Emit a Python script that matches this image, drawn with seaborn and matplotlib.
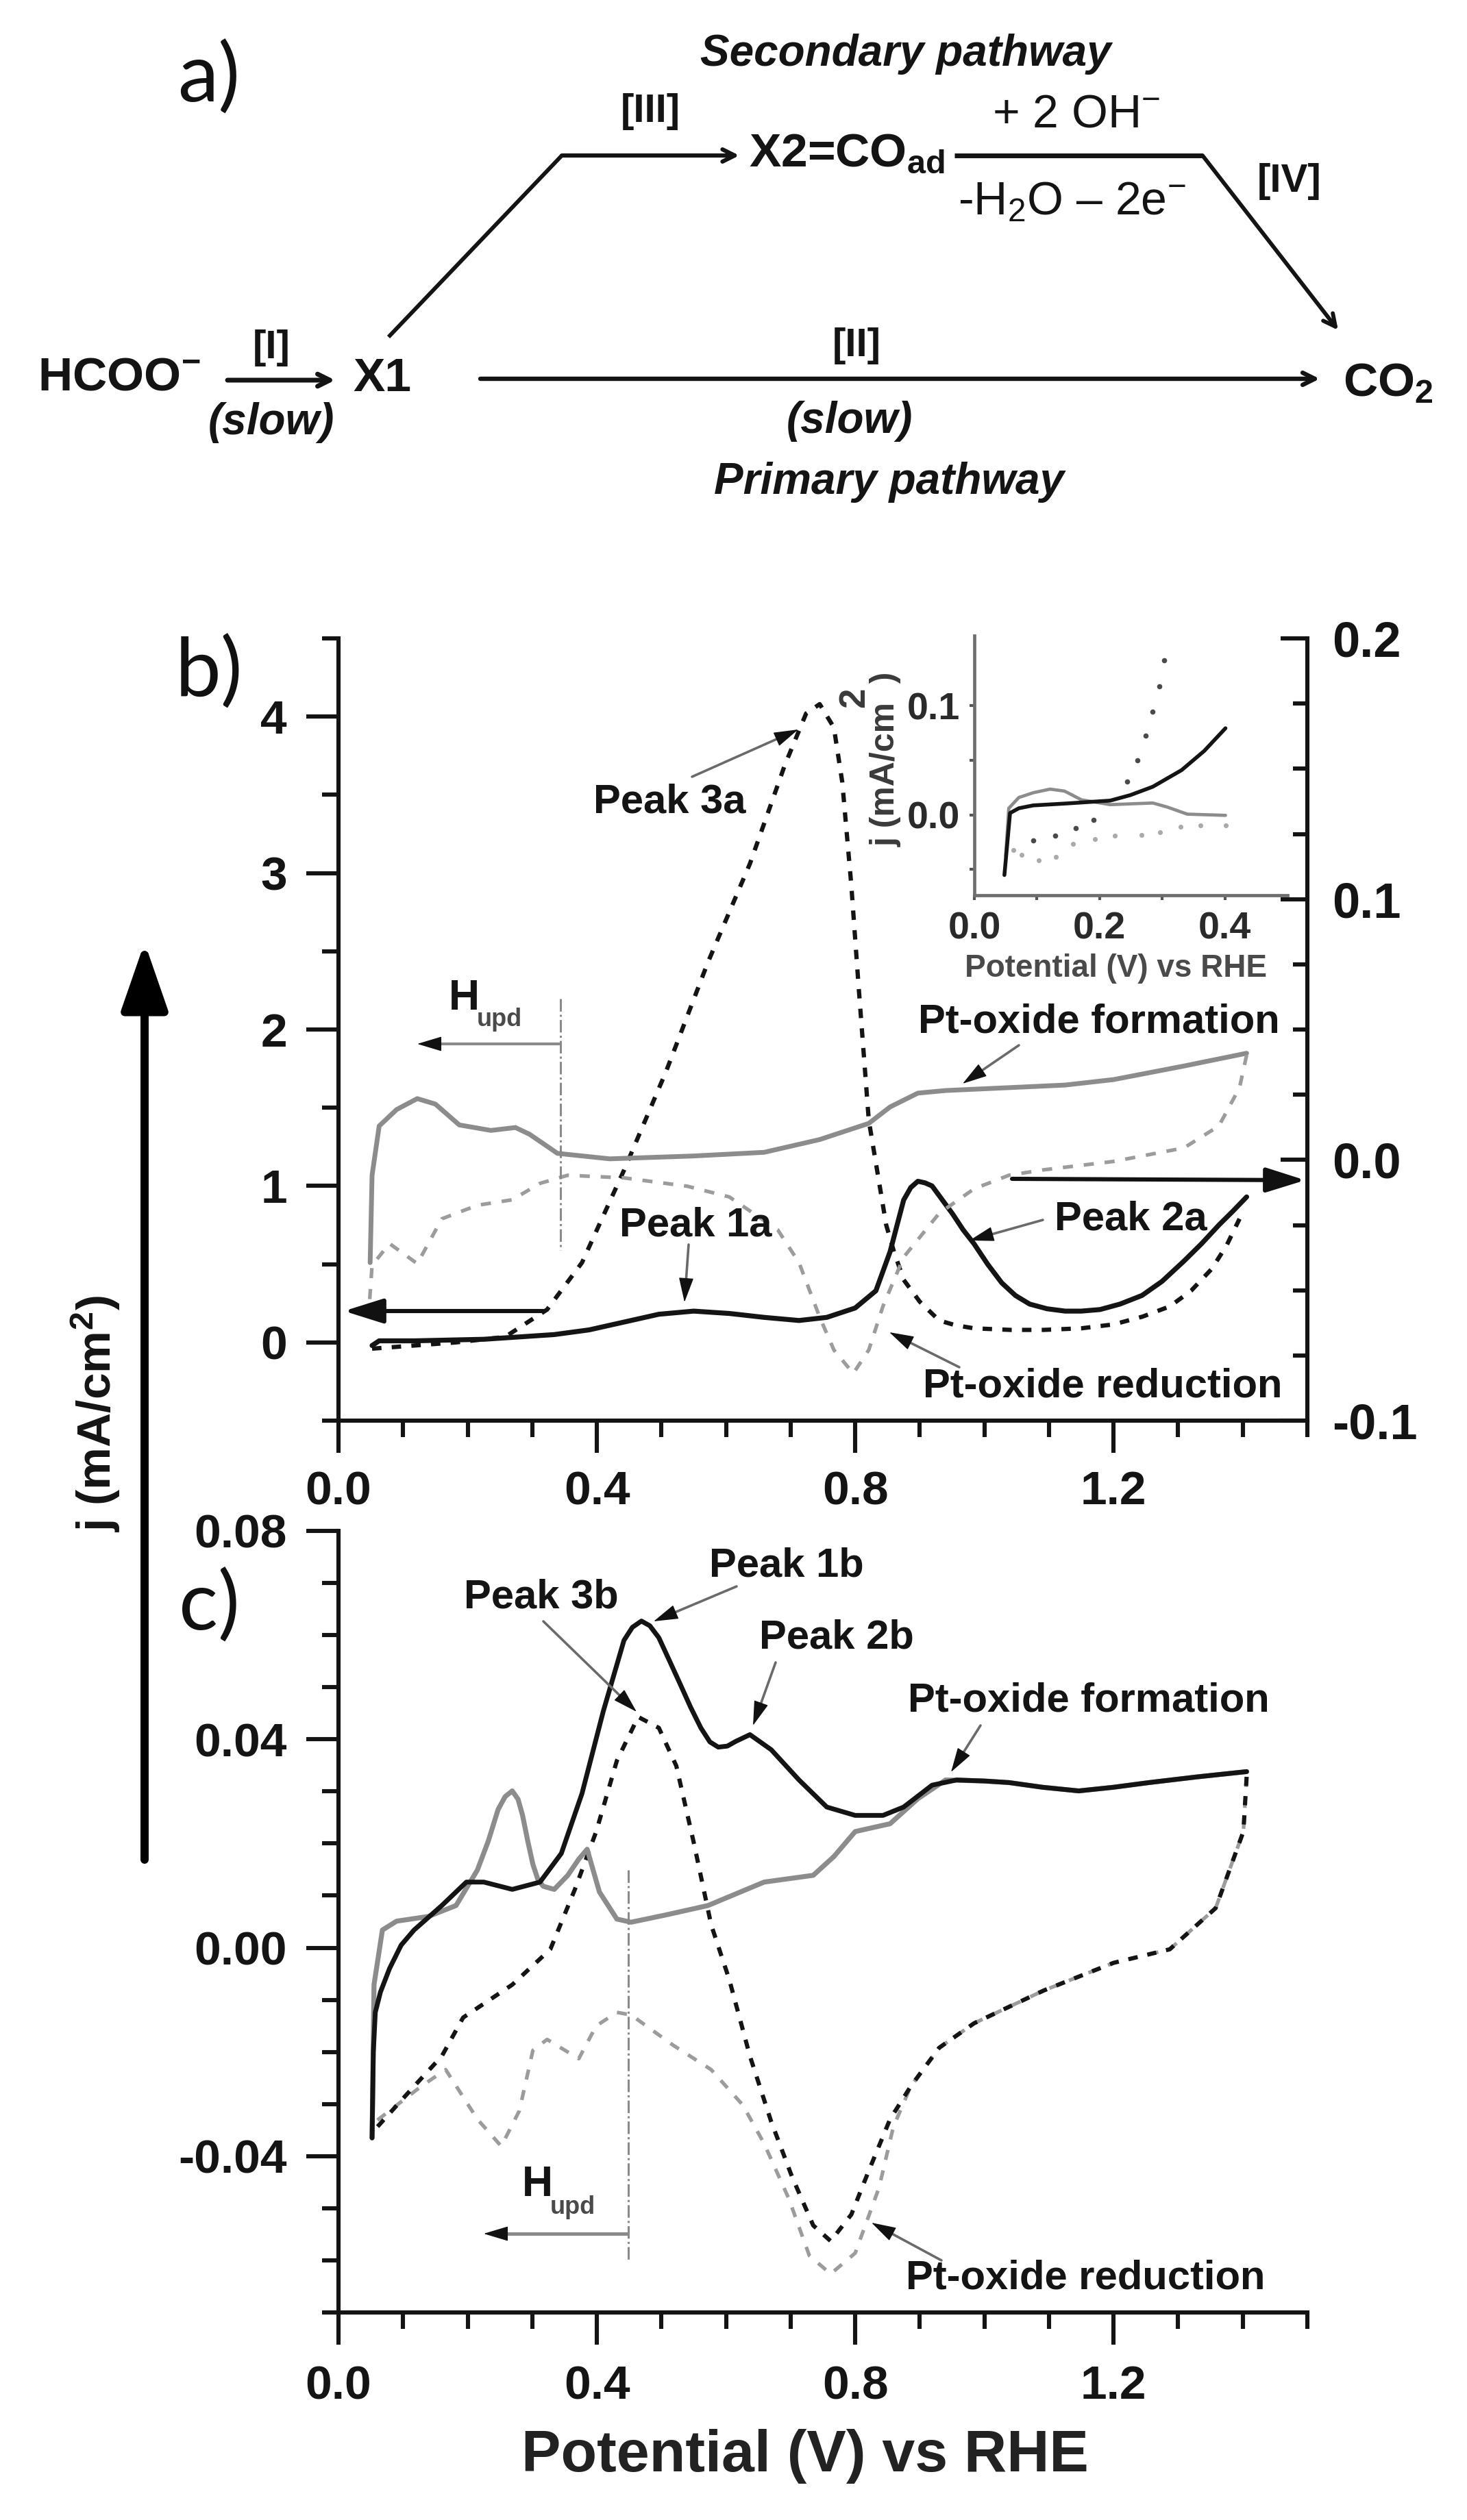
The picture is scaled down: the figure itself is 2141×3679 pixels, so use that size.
import matplotlib
matplotlib.use("Agg")
import matplotlib.pyplot as plt
import seaborn as sns
import numpy as np

# ---------- data: panel b ----------
b_black_x = [.052,.063,.117,.225,.334,.388,.442,.496,.550,.605,.659,.713,.756,.800,.832,.854,.875,.886,.897,.908,.919,.935,.951,.967,.984,1.005,1.027,1.048,1.070,1.097,1.125,1.150,1.179,1.210,1.244,1.275,1.309,1.336,1.363,1.385,1.406]
b_black_y = [-.02,.01,.01,.02,.05,.08,.13,.18,.20,.185,.16,.14,.16,.22,.33,.58,.91,.99,1.03,1.02,1.00,.91,.82,.72,.63,.50,.38,.30,.245,.215,.20,.20,.21,.245,.30,.39,.52,.63,.75,.84,.93]
b_dash_x = [.052,.117,.182,.258,.323,.377,.442,.507,.572,.637,.691,.724,.745,.767,.780,.794,.805,.821,.848,.860,.875,.900,.930,.955,.984,1.040,1.092,1.150,1.200,1.245,1.287,1.320,1.352,1.375,1.395]
b_dash_y = [-.04,-.02,0,.035,.21,.51,1.10,1.73,2.43,3.06,3.69,4.02,4.08,3.93,3.58,2.92,2.29,1.42,.75,.58,.40,.26,.14,.11,.09,.08,.08,.09,.115,.165,.23,.33,.47,.62,.79]
b_gray_x = [.049,.052,.063,.090,.122,.150,.187,.236,.274,.296,.339,.420,.550,.659,.745,.821,.854,.897,.940,1.038,1.125,1.200,1.309,1.406]
b_gray_y = [-.0394,-.0059,.0130,.0193,.0235,.0214,.0134,.0113,.0124,.0098,.0025,.0004,.0015,.0029,.0078,.0140,.0203,.0256,.0266,.0277,.0287,.0308,.0360,.0409]
b_gdash_x = [1.406,1.395,1.363,1.309,1.200,1.092,1.038,.984,.930,.875,.843,.821,.797,.767,.745,.713,.680,.605,.540,.442,.355,.312,.269,.215,.160,.122,.079,.052,.047]
b_gdash_y = [.0402,.0277,.0130,.0046,-.0006,-.0038,-.0059,-.0111,-.0205,-.0373,-.0561,-.0729,-.0819,-.0729,-.0603,-.0394,-.0268,-.0142,-.0101,-.0069,-.0059,-.0090,-.0153,-.0174,-.0226,-.0398,-.0321,-.0404,-.0582]

# ---------- data: inset ----------
i_black_x = [.048,.057,.071,.094,.148,.217,.249,.285,.331,.367,.401]
i_black_y = [-.055,.0017,.0061,.0087,.0105,.0131,.0181,.0258,.0410,.0585,.0793]
i_gray_x = [.050,.055,.071,.094,.121,.144,.171,.217,.285,.308,.340,.401]
i_gray_y = [-.0376,.0061,.0159,.0203,.0236,.0218,.0138,.0094,.0109,.0072,.0007,-.0004]
i_bdot_x = [.094,.129,.162,.190,.244,.260,.274,.284,.295,.303]
i_bdot_y = [-.0234,-.0190,-.0124,-.0048,.0308,.0502,.0723,.0945,.1179,.1415]
i_gdot_x = [.062,.075,.103,.130,.158,.193,.224,.267,.297,.329,.361,.401]
i_gdot_y = [-.0321,-.0365,-.0415,-.0382,-.0266,-.0223,-.0190,-.0186,-.0157,-.0109,-.0096,-.0098]

# ---------- data: panel c ----------
c_black_x = [.052,.054,.057,.065,.079,.097,.117,.160,.198,.225,.269,.312,.345,.377,.410,.442,.455,.469,.482,.496,.512,.529,.545,.561,.575,.588,.602,.615,.637,.670,.713,.756,.800,.843,.875,.919,.957,1.000,1.038,1.090,1.146,1.200,1.255,1.330,1.406]
c_black_y = [-.0365,-.0200,-.0124,-.0085,-.0040,.0005,.0034,.0081,.0126,.0126,.0112,.0126,.0181,.0296,.0454,.0590,.0615,.0627,.0618,.0595,.0552,.0506,.0462,.0422,.0395,.0385,.0387,.0396,.0409,.0380,.0322,.0270,.0254,.0254,.0270,.0312,.0322,.0320,.0317,.0308,.0301,.0308,.0317,.0328,.0338]
c_gray_x = [.052,.055,.068,.090,.139,.182,.215,.232,.247,.258,.269,.278,.285,.293,.301,.309,.317,.334,.355,.372,.385,.394,.404,.431,.453,.507,.572,.659,.735,.767,.800,.854,.897,.940,1.000,1.038,1.090,1.146,1.200,1.255,1.330,1.406]
c_gray_y = [-.0365,-.0071,.0034,.0051,.0060,.0081,.0149,.0205,.0265,.0290,.0301,.0285,.0254,.0205,.0160,.0130,.0118,.0112,.0139,.0170,.0189,.0150,.0107,.0055,.0049,.0063,.0081,.0126,.0139,.0175,.0223,.0238,.0286,.0322,.0320,.0317,.0308,.0301,.0308,.0317,.0328,.0338]
c_dash_x = [1.406,1.401,1.358,1.287,1.200,1.092,.984,.930,.886,.854,.821,.794,.762,.735,.702,.670,.637,.605,.577,.550,.523,.496,.464,.431,.399,.366,.328,.269,.193,.160,.117,.052]
c_dash_y = [.0328,.0223,.0076,-.0003,-.0029,-.0082,-.0145,-.0192,-.0266,-.0329,-.0428,-.0512,-.0563,-.0533,-.0439,-.0334,-.0208,-.0061,.0044,.0202,.0349,.0422,.0443,.0359,.0223,.0112,-.0003,-.0071,-.0134,-.0208,-.0266,-.0355]
c_gdash_x = [1.406,1.401,1.358,1.287,1.200,1.092,.984,.930,.886,.859,.837,.800,.762,.729,.697,.659,.626,.577,.518,.453,.431,.399,.372,.323,.301,.280,.252,.215,.166,.128,.057,.052]
c_gdash_y = [.0328,.0223,.0076,-.0003,-.0029,-.0082,-.0145,-.0192,-.0266,-.0344,-.0460,-.0586,-.0626,-.0591,-.0481,-.0376,-.0302,-.0234,-.0187,-.0129,-.0124,-.0150,-.0213,-.0176,-.0197,-.0313,-.0381,-.0329,-.0234,-.0266,-.0334,-.0360]

# ---------- tick labels ----------
main_xticks = [0.0, 0.4, 0.8, 1.2]
b_left_ticks = [0, 1, 2, 3, 4]
b_right_ticks = [-0.1, 0.0, 0.1, 0.2]
b_right_labels = ["-0.1", "0.0", "0.1", "0.2"]
c_ticks = [-0.04, 0.0, 0.04, 0.08]
c_labels = ["-0.04", "0.00", "0.04", "0.08"]

sns.set_theme(style="ticks")
plt.rcParams.update({
    "font.family": ["Liberation Sans", "DejaVu Sans"],
    "font.weight": "bold",
    "mathtext.fontset": "custom",
    "mathtext.rm": "Liberation Sans",
    "mathtext.bf": "Liberation Sans:bold",
    "mathtext.it": "Liberation Sans:italic",
    "mathtext.default": "regular",
    "lines.solid_joinstyle": "round",
    "lines.dash_joinstyle": "round",
})

W, H = 2141, 3679
DARK, G1, G2 = "#141414", "#8c8c8c", "#9c9c9c"
fig = plt.figure(figsize=(W / 100, H / 100), dpi=100, facecolor="white")

def axes_px(l, t, r, b):
    return fig.add_axes([l / W, 1 - b / H, (r - l) / W, (b - t) / H])

def curve(ax, x, y, color, lw, dashed=None):
    kw = {"linestyle": (0, dashed)} if dashed else {}
    sns.lineplot(x=x, y=y, ax=ax, sort=False, estimator=None, color=color, linewidth=lw, **kw)

def style_main(ax, fs=50):
    ax.set_facecolor("none")
    ax.set_xlim(0, 1.5)
    ax.set_xticks(main_xticks)
    ax.set_xticks(np.arange(0, 1.51, 0.1), minor=True)
    ax.set_xticklabels(["0.0", "0.4", "0.8", "1.2"], fontsize=fs, fontweight="bold")
    ax.spines["top"].set_visible(False)
    ax.spines["right"].set_visible(False)
    for s in ("left", "bottom"):
        ax.spines[s].set_linewidth(4.4)
        ax.spines[s].set_color(DARK)
    ax.tick_params(axis="both", which="major", length=34, width=4.4, color=DARK, labelcolor=DARK)
    ax.tick_params(axis="both", which="minor", length=17, width=4.4, color=DARK)
    ax.tick_params(axis="y", which="major", pad=20, labelsize=fs)
    ax.set_xlabel("")
    ax.set_ylabel("")

BD = (2.2, 2.4)
GD = (2.8, 3.0)

# ---------- panel b ----------
axb = axes_px(494, 932, 1908, 2074)
style_main(axb)
axb.tick_params(axis="x", which="major", pad=18)
axb.set_ylim(-0.5, 4.5)
axb.set_yticks(b_left_ticks)
axb.set_yticks(np.arange(-0.5, 4.51, 1), minor=True)
axb.set_yticklabels([str(v) for v in b_left_ticks], fontweight="bold")
curve(axb, b_dash_x, b_dash_y, DARK, 4.5, dashed=BD)
curve(axb, b_black_x, b_black_y, DARK, 5.2)

axr = axb.twinx()
axr.set_facecolor("none")
axr.set_ylim(-0.1, 0.2)
for s in ("top", "left", "bottom"):
    axr.spines[s].set_visible(False)
axr.spines["right"].set_linewidth(4.4)
axr.spines["right"].set_color(DARK)
axr.set_yticks(b_right_ticks)
axr.set_yticks(np.arange(-0.1, 0.2001, 0.025), minor=True)
axr.set_yticklabels(b_right_labels, fontsize=52, fontweight="bold", color=DARK)
axr.tick_params(axis="y", which="major", direction="in", length=28, width=4.4, color=DARK, pad=26)
axr.tick_params(axis="y", which="minor", direction="in", length=15, width=4.4, color=DARK)
curve(axr, b_gray_x, b_gray_y, G1, 5)
curve(axr, b_gdash_x, b_gdash_y, G2, 3.8, dashed=GD)
axr.set_ylabel("")

# ---------- inset ----------
axi = axes_px(1422, 928, 1879, 1307)
axi.set_facecolor("none")
axi.set_xlim(0, 0.5)
axi.set_ylim(-0.0735, 0.164)
axi.set_xticks([0.0, 0.2, 0.4])
axi.set_xticks([0.1, 0.3], minor=True)
axi.set_xticklabels(["0.0", "0.2", "0.4"], fontsize=40, fontweight="bold", color="#2a2a2a")
axi.set_yticks([0.0, 0.1])
axi.set_yticks([-0.05, 0.05], minor=True)
axi.set_yticklabels(["0.0", "0.1"], fontsize=40, fontweight="bold", color="#2a2a2a")
axi.spines["top"].set_visible(False)
axi.spines["right"].set_visible(False)
for s in ("left", "bottom"):
    axi.spines[s].set_linewidth(3.4)
    axi.spines[s].set_color("#6e6e6e")
axi.tick_params(axis="both", which="both", length=5, width=3, color="#555555")
axi.tick_params(axis="x", which="major", pad=12)
axi.tick_params(axis="y", which="major", pad=10)
curve(axi, i_gray_x, i_gray_y, G1, 3.4)
curve(axi, i_black_x, i_black_y, DARK, 4)
sns.scatterplot(x=i_bdot_x, y=i_bdot_y, ax=axi, color="#4a4a4a", s=30, linewidth=0)
sns.scatterplot(x=i_gdot_x, y=i_gdot_y, ax=axi, color="#aaaaaa", s=26, linewidth=0)
axi.set_xlabel("")
axi.set_ylabel("")

# ---------- panel c ----------
axc = axes_px(494, 2235, 1908, 3376)
style_main(axc)
axc.tick_params(axis="x", which="major", pad=21)
axc.set_ylim(-0.07, 0.08)
axc.set_yticks(c_ticks)
axc.set_yticks(np.arange(-0.07, 0.0801, 0.01), minor=True)
axc.set_yticklabels(c_labels, fontweight="bold")
curve(axc, c_gdash_x, c_gdash_y, G2, 3.8, dashed=GD)
curve(axc, c_dash_x, c_dash_y, DARK, 4.4, dashed=BD)
curve(axc, c_gray_x, c_gray_y, G1, 5.2)
curve(axc, c_black_x, c_black_y, DARK, 5)

# ---------- overlay in pixel coordinates ----------
ov = fig.add_axes([0, 0, 1, 1], zorder=10)
ov.set_xlim(0, W)
ov.set_ylim(H, 0)
ov.axis("off")
ov.patch.set_alpha(0)

def t(x, y, s, fs=43, ha="center", va="center", weight="bold", style="normal", color=DARK, **kw):
    ov.text(x, y, s, fontsize=fs, ha=ha, va=va, fontweight=weight, fontstyle=style, color=color, **kw)

def arrow(x0, y0, x1, y1, color=DARK, lw=3.5, head="->", ms=32):
    ov.annotate("", xy=(x1, y1), xytext=(x0, y0),
                arrowprops=dict(arrowstyle=head, color=color, lw=lw, mutation_scale=ms,
                                shrinkA=0, shrinkB=0))

def note_arrow(x0, y0, x1, y1, color="#6a6a6a", lw=2.6):
    """thin grey shaft with a narrow black head"""
    d = np.hypot(x1 - x0, y1 - y0)
    ux, uy = (x1 - x0) / d, (y1 - y0) / d
    ov.plot([x0, x1 - 20 * ux], [y0, y1 - 20 * uy], color=color, lw=lw, scalex=False, scaley=False)
    arrow(x1 - 30 * ux, y1 - 30 * uy, x1, y1, color="#111111", lw=1,
          head="-|>,head_length=1.0,head_width=0.3", ms=23)

def seg(xs, ys, color=DARK, lw=4):
    ov.plot(xs, ys, color=color, lw=lw, solid_capstyle="butt", scalex=False, scaley=False)

# panel letters
for yy, s in [(114, "a)"), (982, "b)"), (2345, "c)")]:
    ov.text(305, yy, s, fontsize=86, ha="center", va="center", family="Lato", fontweight="normal", color="#111111")

# panel a scheme
t(1322, 79, "Secondary pathway", 46, style="italic")
t(1298, 704, "Primary pathway", 46, style="italic")
t(949, 163, "[III]", 42)
t(1882, 265, "[IV]", 42)
t(396, 508, "[I]", 42)
t(1250, 505, "[II]", 42)
t(396, 617, "(slow)", 46, style="italic")
t(1240, 615, "(slow)", 46, style="italic")
t(1093, 225, r"X2=CO$\mathbf{_{ad}}$", 50, ha="left")
t(1571, 168, r"+ 2 OH$^{-}$", 49, weight="normal")
t(1564, 295, r"-H$_{2}$O – 2e$^{-}$", 49, weight="normal")
t(55, 551, r"HCOO$\mathbf{^{-}}$", 50, ha="left")
t(515, 553, "X1", 50, ha="left")
t(1960, 560, r"CO$\mathbf{_{2}}$", 50, ha="left")
seg([567, 820], [492, 227], lw=4.2)
arrow(820, 227, 1079, 227, lw=4.4)
seg([1393, 1755], [227, 227], lw=5)
arrow(1755, 227, 1953, 482, lw=4.2)
arrow(332, 555, 489, 555, lw=5)
arrow(701, 553, 1926, 553, lw=4.6)

# big axis arrow and shared labels
arrow(211, 2715, 211, 1376, color="black", lw=8.6, head="-|>,head_length=0.75,head_width=0.26", ms=80)
t(140, 2064, r"j (mA/cm$\mathbf{^{2}}$)", 50, rotation=90)
t(1175, 3586, "Potential (V) vs RHE", 62, color="#222222")

# inset labels
t(1628, 1414, "Potential (V) vs RHE", 33, color="#4a4a4a")
t(1293, 1108, "j (mA/cm  )", 36, rotation=90, color="#3a3a3a")
t(1247, 1018, "2", 38, rotation=90, color="#3a3a3a")

# panel b notes
t(977, 1171, "Peak 3a")
note_arrow(1010, 1134, 1165, 1065)
t(655, 1458, "H", 45, ha="left")
t(696, 1488, "upd", 26, ha="left", color="#4a4a4a")
note_arrow(816, 1524, 609, 1524, color="#8a8a8a", lw=3)
ov.plot([818, 818], [1458, 1825], color="#8a8a8a", lw=2.2, ls=(0, (6, 1.5, 1, 1.5)), scalex=False, scaley=False)
t(1604, 1492, "Pt-oxide formation")
note_arrow(1487, 1526, 1405, 1582)
t(1015, 1789, "Peak 1a")
note_arrow(1005, 1817, 999, 1901)
t(1650, 1780, "Peak 2a")
note_arrow(1522, 1781, 1415, 1811)
t(1609, 2024, "Pt-oxide reduction")
note_arrow(1400, 1996, 1298, 1945)
arrow(793, 1914, 502, 1914, color="#111111", lw=4.4, head="-|>,head_length=0.7,head_width=0.22", ms=50)
arrow(1477, 1721, 1905, 1723, color="#111111", lw=4.4, head="-|>,head_length=0.7,head_width=0.22", ms=50)

# panel c notes
t(1148, 2286, "Peak 1b")
note_arrow(1075, 2316, 954, 2367)
t(790, 2332, "Peak 3b")
note_arrow(793, 2367, 929, 2499)
t(1221, 2391, "Peak 2b")
note_arrow(1132, 2427, 1099, 2519)
t(1589, 2483, "Pt-oxide formation")
note_arrow(1431, 2519, 1388, 2587)
t(762, 3190, "H", 45, ha="left")
t(803, 3223, "upd", 26, ha="left", color="#4a4a4a")
note_arrow(915, 3261, 706, 3261, color="#8a8a8a", lw=3.6)
ov.plot([917, 917], [2730, 3300], color="#8a8a8a", lw=2.2, ls=(0, (6, 1.5, 1, 1.5)), scalex=False, scaley=False)
t(1584, 3326, "Pt-oxide reduction")
note_arrow(1374, 3300, 1272, 3245)

fig.savefig("out.png", dpi=100, facecolor="white")
